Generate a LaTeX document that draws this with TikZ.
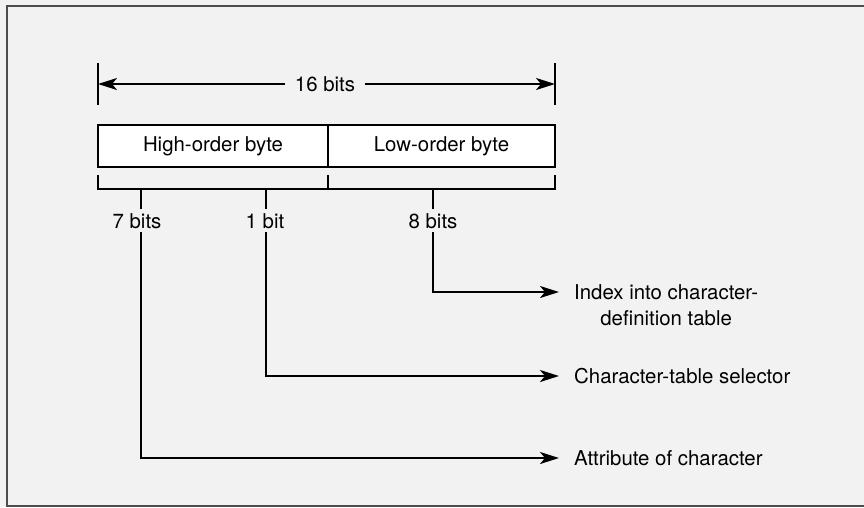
\documentclass[tikz,border=0pt]{standalone}
\usepackage{fontspec}
\setmainfont{TeX Gyre Heros}
\usetikzlibrary{arrows.meta, positioning}

\begin{document}
\begin{tikzpicture}[x=1pt, y=-1pt,
  every node/.style={font=\fontsize{20.4}{26}\selectfont},
  byte/.style={rectangle, draw, fill=white, line width=2pt,
    minimum height=42pt, inner sep=0pt, outer sep=0pt},
  bits/.style={inner sep=3.5pt, anchor=base},
  target/.style={inner xsep=15pt, inner ysep=0pt, anchor=west, align=center},
  line/.style={line width=2.2pt},
  arrow/.style={line, -{Stealth[length=19pt, width=12pt, inset=5pt]}}]

\useasboundingbox (0,0) rectangle (864,507);
\fill[black!5] (0,0) rectangle (864,507);
\draw[line width=1.4pt, black!70] (866,6) -- (7,6) -- (7,506) -- (866,506);

\node[byte, minimum width=230pt] (hi) at (213,146) {High-order byte};
\node[byte, minimum width=227pt, right=0pt of hi] (lo) {Low-order byte};

\node[inner xsep=10pt] (wd) at (325,84) {16 bits};
\draw[line] (hi.west |- 0,63) -- (hi.west |- 0,105);
\draw[line] (lo.east |- 0,63) -- (lo.east |- 0,105);
\draw[arrow] (wd.west) -- (wd.west -| hi.west);
\draw[arrow] (wd.east) -- (wd.east -| lo.east);

\draw[line] ([yshift=-8pt]hi.south west) -- ([yshift=-22pt]hi.south west)
  -- ([yshift=-22pt]lo.south east) -- ([yshift=-8pt]lo.south east);
\draw[line] ([yshift=-8pt]hi.south east) -- ([yshift=-22pt]hi.south east);

\coordinate (s7) at (141,189);
\coordinate (s1) at (266,189);
\coordinate (s8) at (433,189);
\node[bits] (b7) at (137,228) {7 bits};
\node[bits] (b1) at (265,228) {1 bit};
\node[bits] (b8) at (433,228) {8 bits};

\node[target] (idx) at (559,305) {Index into character-\\definition table};
\node[target] (sel) at (559,376) {Character-table selector};
\node[target] (attr) at (559,458) {Attribute of character};

\coordinate (c8) at (433,292);
\coordinate (c1) at (266,376);
\coordinate (c7) at (141,458);

\draw[line] (s7) -- (s7 |- b7.north);
\draw[line] (s1) -- (s1 |- b1.north);
\draw[line] (s8) -- (s8 |- b8.north);
\draw[arrow] (c8 |- b8.south) -- (c8) -- (c8 -| idx.west);
\draw[arrow] (c1 |- b1.south) -- (c1) -- (c1 -| sel.west);
\draw[arrow] (c7 |- b7.south) -- (c7) -- (c7 -| attr.west);

\end{tikzpicture}
\end{document}
